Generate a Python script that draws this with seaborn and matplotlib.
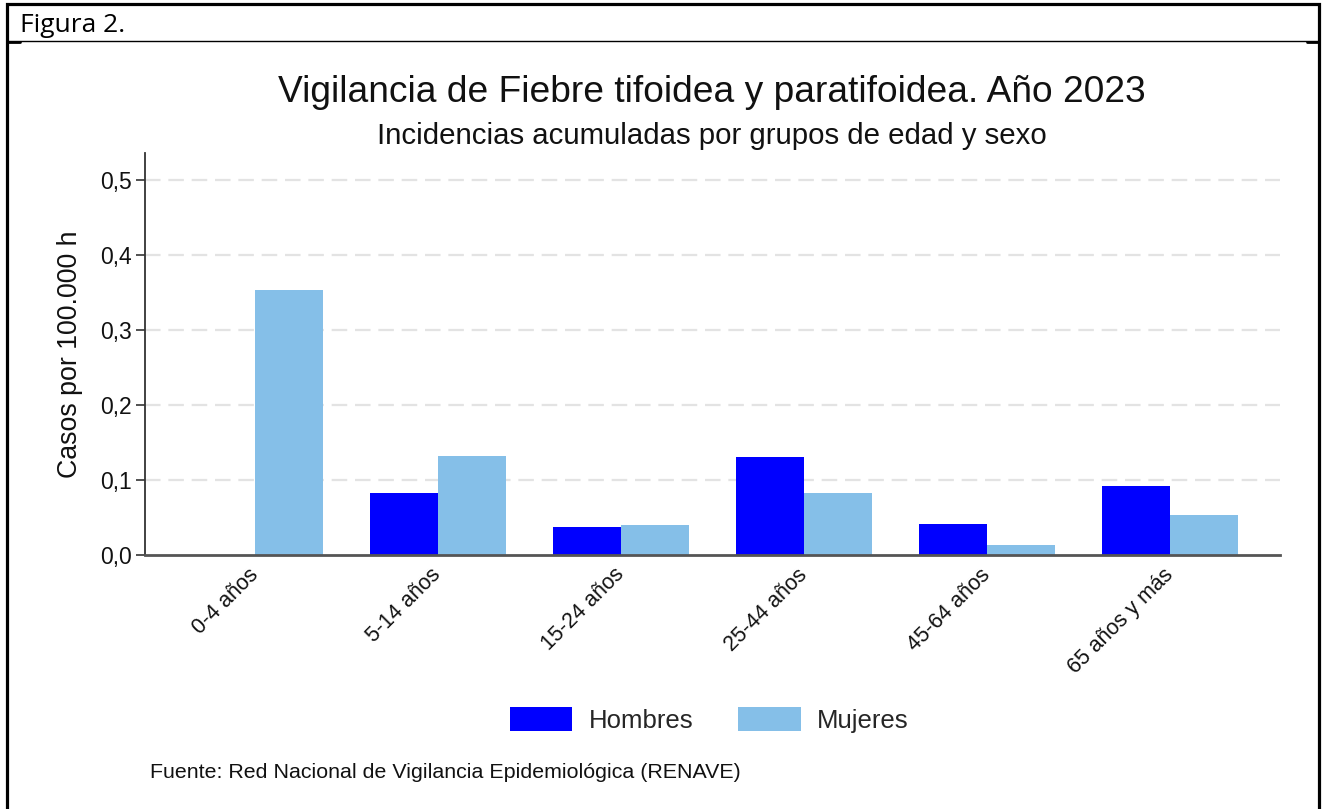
import matplotlib
matplotlib.use("Agg")
import matplotlib.pyplot as plt
import seaborn as sns
import pandas as pd
from matplotlib.patches import Rectangle
from matplotlib.lines import Line2D

# ---- data ----
grupos = ["0-4 años", "5-14 años", "15-24 años", "25-44 años", "45-64 años", "65 años y más"]
hombres = [0.0, 0.083, 0.037, 0.131, 0.041, 0.092]
mujeres = [0.354, 0.132, 0.040, 0.083, 0.013, 0.053]
series = ["Hombres", "Mujeres"]
colores = ["#0000FF", "#85BFE8"]
yticks = [0.0, 0.1, 0.2, 0.3, 0.4, 0.5]
yticklabels = ["0,0", "0,1", "0,2", "0,3", "0,4", "0,5"]

titulo = "Vigilancia de Fiebre tifoidea y paratifoidea. Año 2023"
subtitulo = "Incidencias acumuladas por grupos de edad y sexo"
ylabel = "Casos por 100.000 h"
fuente = "Fuente: Red Nacional de Vigilancia Epidemiológica (RENAVE)"
cabecera = "Figura 2."

df = pd.DataFrame({
    "grupo": grupos * 2,
    "valor": hombres + mujeres,
    "sexo": [series[0]] * len(grupos) + [series[1]] * len(grupos),
})

sns.set_theme(style="white")
plt.rcParams["font.family"] = ["Liberation Sans", "DejaVu Sans"]

W, H = 1324, 809
fig = plt.figure(figsize=(W / 100, H / 100), dpi=100)
fig.patch.set_facecolor("white")
ax = fig.add_axes([145 / W, 1 - 555 / H, (1280 - 145) / W, (555 - 153) / H])

# grid behind bars
ax.set_axisbelow(True)
for v in yticks[1:]:
    ax.axhline(v, color="#E3E3E3", lw=1.6, ls=(0, (7, 3.5)), zorder=0)

sns.barplot(data=df, x="grupo", y="valor", hue="sexo", palette=colores,
            saturation=1, width=0.745, gap=0, ax=ax, linewidth=0, zorder=2)

ax.set_xlim(-0.6, 5.6)
ax.set_ylim(0, (555 - 153) / 750)
ax.set_yticks(yticks)
ax.set_yticklabels(yticklabels, fontsize=16.5, color="#111111")
ax.set_xticks(range(len(grupos)))
ax.set_xticklabels(grupos, rotation=45, ha="right", va="center",
                   rotation_mode="anchor", fontsize=15.5, color="#111111")
ax.tick_params(axis="x", length=0, pad=12)
ax.tick_params(axis="y", length=6.5, width=1.2, color="#333333", pad=3, left=True)
ax.set_xlabel("")
ax.set_ylabel(ylabel, fontsize=19.3, color="#111111", labelpad=12)
for s in ["top", "right"]:
    ax.spines[s].set_visible(False)
ax.spines["left"].set_color("#333333")
ax.spines["left"].set_linewidth(1.3)
ax.spines["bottom"].set_color("#555555")
ax.spines["bottom"].set_linewidth(2.0)

sns.move_legend(ax, "center", bbox_to_anchor=(709 / W, 1 - 720 / H),
                bbox_transform=fig.transFigure, ncol=2, frameon=False, title=None,
                fontsize=18.5, handlelength=2.45, handleheight=1.05,
                handletextpad=0.62, columnspacing=1.75)

fig.text(712 / W, 1 - 92 / H, titulo, ha="center", va="center", fontsize=26.7, color="#111111")
fig.text(712 / W, 1 - 136 / H, subtitulo, ha="center", va="center", fontsize=21.2, color="#111111")
fig.text(150 / W, 1 - 772 / H, fuente, ha="left", va="center", fontsize=15.4, color="#111111")
fig.text(20 / W, 1 - 25 / H, cabecera, ha="left", va="center", fontsize=19,
         family=["Open Sans", "DejaVu Sans"], color="#000000")

# outer frame and header line
fig.patches.append(Rectangle((7 / W, -0.02), (1319 - 7) / W, (1.02 - 4 / H),
                             transform=fig.transFigure, fill=False, ec="black", lw=2.3))
fig.lines.append(Line2D([7 / W, 1319 / W], [1 - 41 / H, 1 - 41 / H],
                        transform=fig.transFigure, color="black", lw=1.0))
fig.lines.append(Line2D([7 / W, 20 / W], [1 - 41.5 / H, 1 - 41.5 / H],
                        transform=fig.transFigure, color="black", lw=2.0))
fig.lines.append(Line2D([1307 / W, 1319 / W], [1 - 41.5 / H, 1 - 41.5 / H],
                        transform=fig.transFigure, color="black", lw=2.0))

fig.savefig("out.png", dpi=100, facecolor="white")
